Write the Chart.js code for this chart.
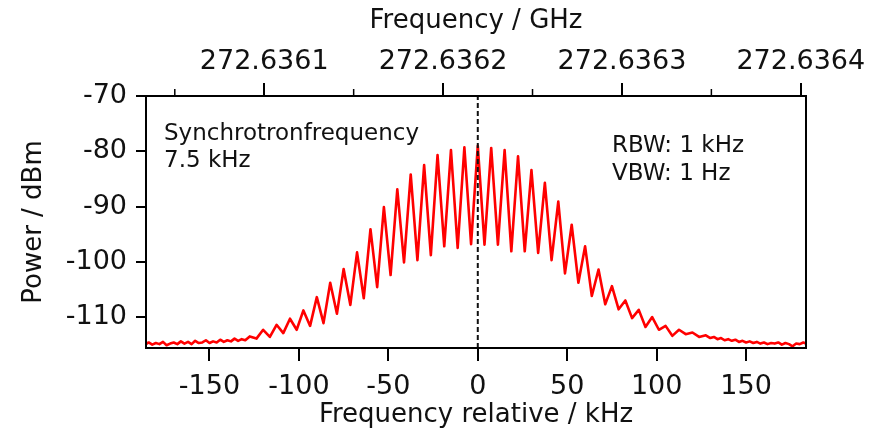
<!DOCTYPE html>
<html>
<head>
<meta charset="utf-8">
<script src="https://cdn.jsdelivr.net/npm/chart.js@4"></script>
<style>
  html, body { margin: 0; padding: 0; background: #fff; }
  canvas { display: block; }
</style>
</head>
<body>
<canvas id="c" width="873" height="433"></canvas>
<script>
// ---- Data ----
// Frequency offset (kHz) relative to the centre frequency
const freqKHz = [
  -185.5, -184, -182, -180, -178, -176, -174, -172, -170, -168, -166, -164, -162, -160,
  -158, -156, -154, -152, -150, -148, -146, -144, -142, -140, -138, -136, -134, -132, -130,
  -127.5, -123.75, -120, -116.25, -112.5, -108.75, -105, -101.25, -97.5, -93.75,
  -90, -86.25, -82.5, -78.75, -75, -71.25, -67.5, -63.75, -60, -56.25,
  -52.5, -48.75, -45, -41.25, -37.5, -33.75, -30, -26.25, -22.5, -18.75,
  -15, -11.25, -7.5, -3.75, 0, 3.75, 7.5, 11.25, 15, 18.75,
  22.5, 26.25, 30, 33.75, 37.5, 41.25, 45, 48.75, 52.5, 56.25,
  60, 63.75, 67.5, 71.25, 75, 78.75, 82.5, 86.25, 90, 93.75,
  97.5, 101.25, 105, 108.75, 112.5, 116.25, 120, 123.75, 127.5,
  130, 132, 134, 136, 138, 140, 142, 144, 146, 148, 150, 152, 154, 156, 158,
  160, 162, 164, 166, 168, 170, 172, 174, 176, 178, 180, 182, 183.5
];
// Measured power (dBm)
const powerDBm = [
  -114.9, -114.6, -115.0, -114.7, -114.9, -114.5, -115.1, -114.8, -114.6, -114.9, -114.4, -114.8, -114.5, -114.9,
  -114.3, -114.7, -114.6, -114.2, -114.7, -114.4, -114.6, -114.1, -114.5, -114.2, -114.4, -113.9, -114.3, -114.0, -114.2,
  -113.5, -113.9, -112.3, -113.6, -111.4, -112.9, -110.3, -112.3, -108.8, -111.6,
  -106.4, -111.1, -103.8, -109.4, -101.3, -107.8, -98.3, -106.6, -94.1, -104.6,
  -90.1, -102.4, -86.9, -100.1, -84.2, -99.7, -82.5, -98.8, -80.7, -97.2,
  -79.8, -97.5, -79.3, -96.8, -79.0, -96.9, -79.4, -96.9, -79.8, -98.1,
  -80.9, -98.1, -83.4, -98.4, -85.7, -99.7, -89.1, -102.1, -93.3, -103.8,
  -97.2, -106.2, -101.4, -107.7, -104.4, -108.6, -107.0, -110.2, -108.7, -111.8,
  -110.0, -112.3, -111.6, -113.4, -112.3, -113.1, -112.8, -113.6, -113.3,
  -113.8, -113.6, -114.0, -113.8, -114.2, -114.0, -114.3, -114.1, -114.5, -114.3, -114.6, -114.4, -114.7, -114.5, -114.8,
  -114.6, -114.9, -114.7, -114.8, -114.6, -115.0, -114.7, -114.9, -115.3, -114.8, -114.9, -114.6, -114.8
];
// Axis ranges and ticks
const xRange = [-185.5, 183.5];
const yRange = [-115.6, -70];
const xTicks = [-150, -100, -50, 0, 50, 100, 150];
const yTicks = [-110, -100, -90, -80, -70];
const centerGHz = 272.6362194;
const topTickGHz = [272.6361, 272.6362, 272.6363, 272.6364];
const topTickLabels = ['272.6361', '272.6362', '272.6363', '272.6364'];
const topMinorGHz = [272.63605, 272.63615, 272.63625, 272.63635];
// Dashed marker at zero offset
const zeroLineX = [0, 0];
const zeroLineY = [-115.6, -70];
// Annotation texts
const noteLeft = ['Synchrotronfrequency', '7.5 kHz'];
const noteRight = ['RBW: 1 kHz', 'VBW: 1 Hz'];

const FONT = 'DejaVu Sans';
const ghzToKHz = g => (g - centerGHz) * 1e6;

const framePlugin = {
  id: 'frame',
  afterDraw(chart) {
    const { ctx, chartArea: a } = chart;
    const top = chart.scales.xTop;
    ctx.save();
    ctx.strokeStyle = '#000';
    ctx.lineWidth = 2;
    ctx.beginPath();
    ctx.rect(a.left, a.top, a.right - a.left, a.bottom - a.top);
    ctx.stroke();
    // minor ticks on the top axis
    ctx.lineWidth = 1.5;
    ctx.beginPath();
    topMinorGHz.forEach(g => {
      const px = top.getPixelForValue(ghzToKHz(g));
      ctx.moveTo(px, a.top);
      ctx.lineTo(px, a.top - 7);
    });
    ctx.stroke();
    // annotations
    ctx.fillStyle = '#111';
    ctx.font = '23px "' + FONT + '"';
    ctx.textAlign = 'left';
    ctx.textBaseline = 'alphabetic';
    ctx.fillText(noteLeft[0], 164, 140);
    ctx.fillText(noteLeft[1], 164, 167);
    ctx.fillText(noteRight[0], 612, 152);
    ctx.fillText(noteRight[1], 612, 180);
    ctx.restore();
  }
};

const tickFont = { family: FONT, size: 27 };
const titleFont = { family: FONT, size: 26 };

new Chart(document.getElementById('c'), {
  type: 'line',
  data: {
    datasets: [
      {
        data: zeroLineX.map((x, i) => ({ x, y: zeroLineY[i] })),
        borderColor: '#111', borderWidth: 2, borderDash: [5, 3],
        pointRadius: 0, tension: 0, xAxisID: 'x', yAxisID: 'y'
      },
      {
        data: freqKHz.map((x, i) => ({ x, y: powerDBm[i] })),
        borderColor: '#ff0000', borderWidth: 2.6, borderJoinStyle: 'round',
        pointRadius: 0, tension: 0, xAxisID: 'x', yAxisID: 'y'
      }
    ]
  },
  options: {
    responsive: false,
    animation: false,
    devicePixelRatio: 1,
    layout: { padding: { left: 0, right: 67, top: 0, bottom: 0 } },
    plugins: { legend: { display: false }, tooltip: { enabled: false } },
    scales: {
      x: {
        type: 'linear', position: 'bottom', min: xRange[0], max: xRange[1],
        afterBuildTicks: s => { s.ticks = xTicks.map(v => ({ value: v })); },
        afterFit: s => { s.height = 85; },
        grid: { drawOnChartArea: false, drawTicks: true, tickLength: 13, color: '#000', lineWidth: 2 },
        border: { display: true, color: '#000', width: 2 },
        ticks: { color: '#111', font: tickFont, padding: 10, maxRotation: 0, autoSkip: false, callback: v => String(v) },
        title: { display: true, text: 'Frequency relative / kHz', color: '#111', font: titleFont, padding: { top: 0, bottom: 2 } }
      },
      xTop: {
        type: 'linear', position: 'top', min: xRange[0], max: xRange[1],
        afterBuildTicks: s => { s.ticks = topTickGHz.map(g => ({ value: ghzToKHz(g) })); },
        afterFit: s => { s.height = 96; },
        grid: { drawOnChartArea: false, drawTicks: true, tickLength: 13, color: '#000', lineWidth: 2 },
        border: { display: true, color: '#000', width: 2 },
        ticks: { color: '#111', font: tickFont, padding: 5, maxRotation: 0, autoSkip: false, callback: (v, i) => topTickLabels[i] },
        title: { display: true, text: 'Frequency / GHz', color: '#111', font: titleFont, padding: { top: 6, bottom: 0 } }
      },
      y: {
        type: 'linear', position: 'left', min: yRange[0], max: yRange[1],
        afterBuildTicks: s => { s.ticks = yTicks.map(v => ({ value: v })); },
        afterFit: s => { s.width = 146; },
        grid: { drawOnChartArea: false, drawTicks: true, tickLength: 10, color: '#000', lineWidth: 2 },
        border: { display: true, color: '#000', width: 2 },
        ticks: { color: '#111', font: tickFont, padding: 9, autoSkip: false, callback: v => String(v) },
        title: { display: true, text: 'Power / dBm', color: '#111', font: titleFont, padding: { top: 19, bottom: 0 } }
      }
    }
  },
  plugins: [framePlugin]
});
</script>
</body>
</html>
